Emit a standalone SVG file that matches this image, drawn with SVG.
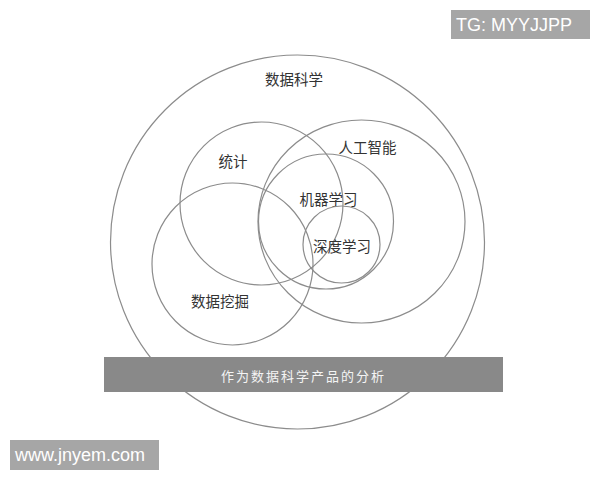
<svg xmlns="http://www.w3.org/2000/svg" width="600" height="480" viewBox="0 0 600 480">
<style>
.c{fill:none;stroke:#8c8c8c;stroke-width:1.2}
.l{font-family:"Noto Sans CJK SC","Noto Sans CJK TC",sans-serif;font-size:14.5px;fill:#333;text-anchor:middle;dominant-baseline:central}
.w{font-family:"Liberation Sans",Arial,sans-serif;font-size:18px;fill:#fff}
</style>
<rect width="600" height="480" fill="#fff"/>
<g id="connectors"></g>
<g id="data-science"><circle class="c" cx="297.5" cy="242" r="187"/><text class="l" x="294" y="78">数据科学</text></g>
<g id="statistics"><circle class="c" cx="261.5" cy="203.5" r="81.5"/><text class="l" x="233" y="160">统计</text></g>
<g id="data-mining"><ellipse class="c" cx="232.5" cy="264" rx="80.5" ry="81"/><text class="l" x="220" y="300">数据挖掘</text></g>
<g id="ai"><ellipse class="c" cx="361.5" cy="221.5" rx="103.5" ry="101.5"/><text class="l" x="367.5" y="146">人工智能</text></g>
<g id="ml"><circle class="c" cx="326" cy="221.5" r="67.5"/><text class="l" x="328.5" y="198">机器学习</text></g>
<g id="dl"><circle class="c" cx="341.5" cy="244.5" r="38.5"/><text class="l" x="342" y="245">深度学习</text></g>
<g id="banner"><rect x="104" y="357" width="399" height="35" fill="#898989"/><text x="303.5" y="375" style="font-family:'Noto Sans CJK SC',sans-serif;font-size:13px;fill:#f4f4f4;text-anchor:middle;dominant-baseline:central;letter-spacing:2px">作为数据科学产品的分析</text></g>
<g id="tg"><rect x="451" y="10" width="139" height="29" fill="#a6a6a6"/><text class="w" x="456" y="31">TG: MYYJJPP</text></g>
<g id="www"><rect x="10" y="440" width="149" height="30" fill="#a6a6a6"/><text class="w" x="15" y="461">www.jnyem.com</text></g>
</svg>
